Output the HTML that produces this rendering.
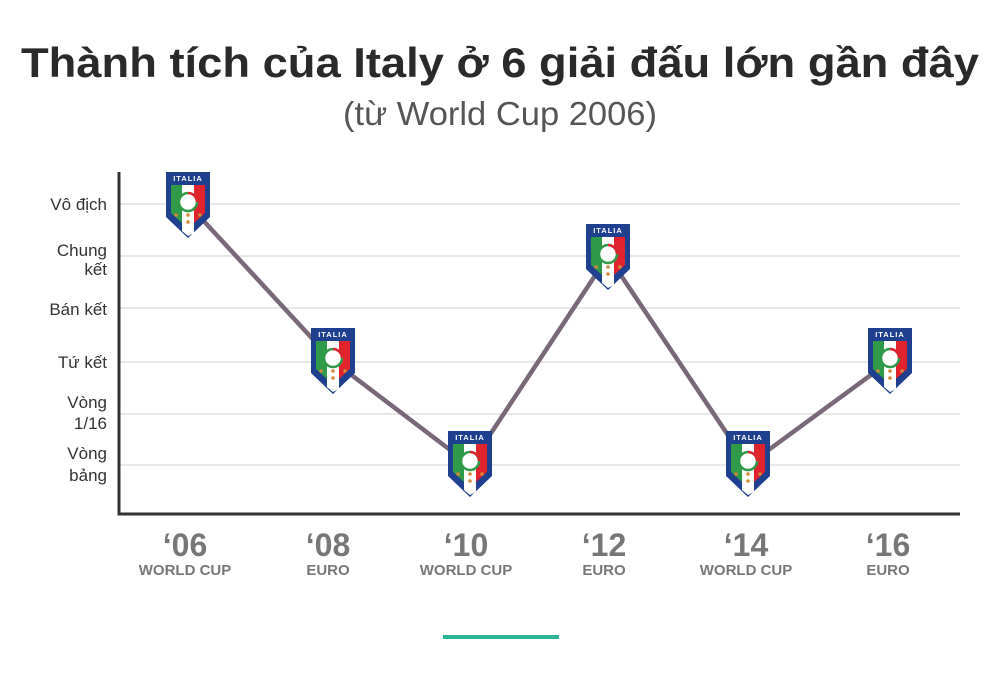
<!DOCTYPE html>
<html><head><meta charset="utf-8"><style>
body{margin:0;background:#fff;width:1000px;height:679px;overflow:hidden;font-family:"Liberation Sans",sans-serif}
</style></head><body>
<svg width="1000" height="679" viewBox="0 0 1000 679" xmlns="http://www.w3.org/2000/svg">
<defs>
<g id="b">
<path d="M-22,-33 H22 V12 L0,33 L-22,12 Z" fill="#1f3f8f"/>
<path d="M-17,-20 H-6 V18 L-17,8 Z" fill="#2f9a48"/>
<path d="M-6,-20 H6 V28 L0,31 L-6,26 Z" fill="#fff"/>
<path d="M6,-20 H17 V8 L6,18 Z" fill="#e0232c"/>
<circle cx="0" cy="-3" r="9" fill="#fff" stroke="#2f9a48" stroke-width="2.5"/>
<path d="M0,-12 A9,9 0 0 1 9,-3" fill="none" stroke="#e0232c" stroke-width="2.5"/>
<circle cx="-12" cy="10" r="1.8" fill="#d08a3a"/><circle cx="12" cy="10" r="1.8" fill="#d08a3a"/>
<circle cx="0" cy="10" r="1.8" fill="#d08a3a"/><circle cx="0" cy="17" r="1.8" fill="#d08a3a"/>
</g>
</defs>
<text x="500" y="77" text-anchor="middle" font-size="42" font-weight="bold" fill="#2a2a2a" textLength="958" lengthAdjust="spacingAndGlyphs">Thành tích của Italy ở 6 giải đấu lớn gần đây</text>
<text x="500" y="125" text-anchor="middle" font-size="33" fill="#555" textLength="314" lengthAdjust="spacingAndGlyphs">(từ World Cup 2006)</text>
<g stroke="#d0d0d0" stroke-width="1">
<line x1="119" y1="204" x2="960" y2="204"/><line x1="119" y1="256" x2="960" y2="256"/>
<line x1="119" y1="308" x2="960" y2="308"/><line x1="119" y1="362" x2="960" y2="362"/>
<line x1="119" y1="414" x2="960" y2="414"/><line x1="119" y1="465" x2="960" y2="465"/>
</g>
<path d="M119,172 V514 H960" fill="none" stroke="#333" stroke-width="3"/>
<g font-size="17" fill="#333" text-anchor="end">
<text x="107" y="210">Vô địch</text>
<text x="107" y="256">Chung</text><text x="107" y="275">kết</text>
<text x="107" y="315">Bán kết</text>
<text x="107" y="368">Tứ kết</text>
<text x="107" y="408">Vòng</text><text x="107" y="429">1/16</text>
<text x="107" y="459">Vòng</text><text x="107" y="481">bảng</text>
</g>
<polyline points="188,204 333,361 470,465 608,256 748,465 890,361" fill="none" stroke="#786878" stroke-width="4.5"/>
<g>
<use href="#b" x="188" y="205"/><use href="#b" x="333" y="361"/><use href="#b" x="470" y="464"/>
<use href="#b" x="608" y="257"/><use href="#b" x="748" y="464"/><use href="#b" x="890" y="361"/>
</g>
<g font-size="7.5" font-weight="bold" fill="#fff" text-anchor="middle" letter-spacing="1">
<text x="188" y="181">ITALIA</text><text x="333" y="337">ITALIA</text><text x="470" y="440">ITALIA</text>
<text x="608" y="233">ITALIA</text><text x="748" y="440">ITALIA</text><text x="890" y="337">ITALIA</text>
</g>
<g fill="#777" font-weight="bold" text-anchor="middle">
<g font-size="32">
<text x="185" y="556">‘06</text><text x="328" y="556">‘08</text><text x="466" y="556">‘10</text>
<text x="604" y="556">‘12</text><text x="746" y="556">‘14</text><text x="888" y="556">‘16</text>
</g>
<g font-size="15">
<text x="185" y="575">WORLD CUP</text><text x="328" y="575">EURO</text><text x="466" y="575">WORLD CUP</text>
<text x="604" y="575">EURO</text><text x="746" y="575">WORLD CUP</text><text x="888" y="575">EURO</text>
</g>
</g>
<rect x="443" y="635" width="116" height="4" fill="#2bb594"/>
</svg>
</body></html>
